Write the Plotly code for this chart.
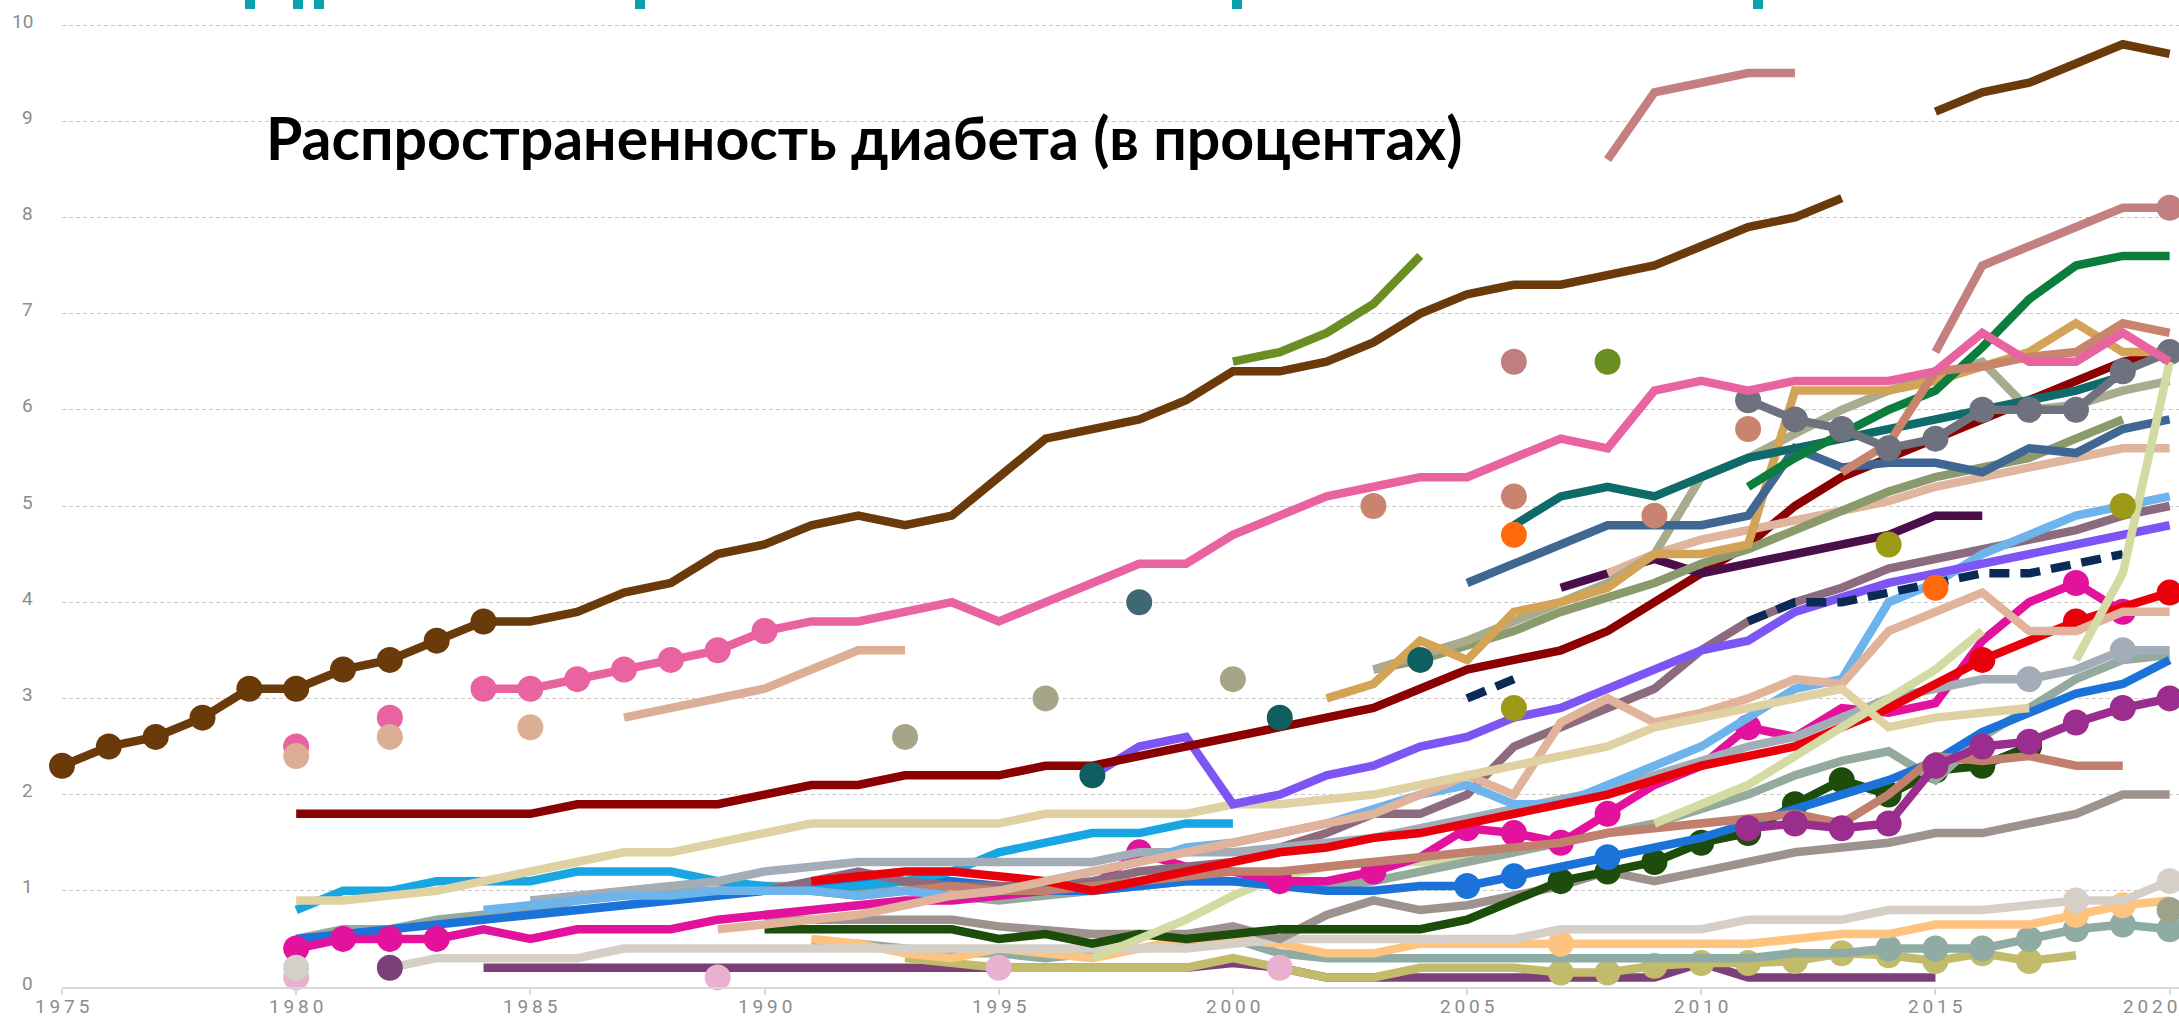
import plotly.graph_objects as go

# ---------------- categories ----------------
YEARS = [1975, 1976, 1977, 1978, 1979, 1980, 1981, 1982, 1983, 1984,
         1985, 1986, 1987, 1988, 1989, 1990, 1991, 1992, 1993, 1994,
         1995, 1996, 1997, 1998, 1999, 2000, 2001, 2002, 2003, 2004,
         2005, 2006, 2007, 2008, 2009, 2010, 2011, 2012, 2013, 2014,
         2015, 2016, 2017, 2018, 2019, 2020]
X_TICKS = [1975, 1980, 1985, 1990, 1995, 2000, 2005, 2010, 2015, 2020]
Y_TICKS = [0, 1, 2, 3, 4, 5, 6, 7, 8, 9, 10]
TITLE = "Распространенность диабета (в процентах)"

# ---------------- series values (start year given separately) ----------------
brown_a = [2.3, 2.5, 2.6, 2.8, 3.1, 3.1, 3.3, 3.4, 3.6, 3.8,
           3.8, 3.9, 4.1, 4.2, 4.5, 4.6, 4.8, 4.9, 4.8, 4.9,
           5.3, 5.7, 5.8, 5.9, 6.1, 6.4, 6.4, 6.5, 6.7, 7.0,
           7.2, 7.3, 7.3, 7.4, 7.5, 7.7, 7.9, 8.0, 8.2]            # 1975-
brown_b = [9.1, 9.3, 9.4, 9.6, 9.8, 9.7]                              # 2015-
hotpink = [3.1, 3.1, 3.2, 3.3, 3.4, 3.5, 3.7,
           3.8, 3.8, 3.9, 4.0, 3.8, 4.0, 4.2, 4.4, 4.4,
           4.7, 4.9, 5.1, 5.2, 5.3, 5.3, 5.5, 5.7, 5.6, 6.2,
           6.3, 6.2, 6.3, 6.3, 6.3, 6.4, 6.8, 6.5, 6.5, 6.8, 6.5]   # 1984-
peach_hi = [2.8, 2.9, 3.0, 3.1, 3.3, 3.5, 3.5]                       # 1987-
darkred = [1.8, 1.8, 1.8, 1.8, 1.8, 1.8, 1.9, 1.9, 1.9, 1.9,
           2.0, 2.1, 2.1, 2.2, 2.2, 2.2, 2.3, 2.3, 2.4, 2.5,
           2.6, 2.7, 2.8, 2.9, 3.1, 3.3, 3.4, 3.5, 3.7, 4.0,
           4.3, 4.6, 5.0, 5.3, 5.5, 5.7, 5.9, 6.1, 6.3, 6.5, 6.6]    # 1980-
olivegreen = [6.5, 6.6, 6.8, 7.1, 7.6]                               # 2000-
rosy_a = [8.6, 9.3, 9.4, 9.5, 9.5]                                   # 2008-
rosy_b = [6.6, 7.5, 7.7, 7.9, 8.1, 8.1]                              # 2015-
green = [5.2, 5.5, 5.75, 6.0, 6.2, 6.65, 7.15, 7.5, 7.6, 7.6]        # 2011-
graymark = [6.1, 5.9, 5.8, 5.6, 5.7, 6.0, 6.0, 6.0, 6.4, 6.6]        # 2011-
darkteal = [4.8, 5.1, 5.2, 5.1, 5.3, 5.5, 5.6, 5.7, 5.8, 5.9,
            6.0, 6.1, 6.2, 6.35]                                     # 2006-
steelblue = [4.2, 4.4, 4.6, 4.8, 4.8, 4.8, 4.9, 5.6, 5.4, 5.45,
             5.45, 5.35, 5.6, 5.55, 5.8, 5.9]                        # 2005-
gold = [3.0, 3.15, 3.6, 3.4, 3.9, 4.0, 4.15, 4.5, 4.5, 4.6,
        6.2, 6.2, 6.2, 6.3, 6.45, 6.6, 6.9, 6.6, 6.6]                # 2002-
salmon = [5.35, 5.65, 6.4, 6.45, 6.55, 6.6, 6.9, 6.8]                # 2013-
darkpurple = [4.15, 4.3, 4.45, 4.3, 4.4, 4.5, 4.6, 4.7, 4.9, 4.9]    # 2007-
sageolive = [3.3, 3.4, 3.55, 3.7, 3.9, 4.05, 4.2, 4.4, 4.55, 4.75,
             4.95, 5.15, 5.3, 5.4, 5.5, 5.7, 5.9]                    # 2003-
khakigray = [3.3, 3.45, 3.6, 3.8, 4.0, 4.2, 4.5, 5.3, 5.5, 5.75,
             6.0, 6.2, 6.35, 6.5, 6.0, 6.05, 6.2, 6.3]               # 2003-
lighttan = [4.3, 4.5, 4.65, 4.75, 4.85, 4.95, 5.05, 5.2, 5.3, 5.4,
            5.5, 5.6, 5.6]                                           # 2008-
palelime_a = [0.3, 0.5, 0.7, 0.95, 1.15, 1.25, 1.3, 1.3, 1.35, 1.4]  # 1997-
palelime_b = [1.7, 1.9, 2.1, 2.4, 2.7, 3.0, 3.3, 3.7]                # 2009-
palelime_c = [3.4, 4.3, 6.5]                                         # 2018-
lightblue = [0.8, 0.85, 0.9, 0.95, 0.95, 1.0, 1.0, 1.0, 0.95, 1.0,
             0.95, 1.0, 1.1, 1.2, 1.3, 1.45, 1.5, 1.6, 1.7, 1.85,
             2.0, 2.1, 1.9, 1.9, 2.1, 2.3, 2.5, 2.8, 3.1, 3.2,
             4.0, 4.2, 4.5, 4.7, 4.9, 5.0, 5.1]                      # 1984-
mauve = [1.0, 1.1, 1.2, 1.1, 1.05, 1.05, 1.05, 1.1, 1.2, 1.25,
         1.3, 1.45, 1.6, 1.8, 1.8, 2.0, 2.5, 2.7, 2.9, 3.1,
         3.5, 3.8, 4.0, 4.15, 4.35, 4.45, 4.55, 4.65, 4.75, 4.9, 5.0]  # 1990-
violet = [2.2, 2.5, 2.6, 1.9, 2.0, 2.2, 2.3, 2.5, 2.6, 2.8,
          2.9, 3.1, 3.3, 3.5, 3.6, 3.9, 4.05, 4.2, 4.3, 4.4,
          4.5, 4.6, 4.7, 4.8]                                        # 1997-
navy_a = [3.0, 3.2]                                                  # 2005-
navy_b = [3.8, 4.0, 4.0, 4.1, 4.2, 4.3, 4.3, 4.4, 4.5]               # 2011-
red = [1.1, 1.15, 1.2, 1.2, 1.15, 1.1, 1.0, 1.1, 1.2,
       1.3, 1.4, 1.45, 1.55, 1.6, 1.7, 1.8, 1.9, 2.0, 2.15,
       2.3, 2.4, 2.5, 2.7, 2.9, 3.15, 3.4, 3.6, 3.8, 3.95, 4.1]      # 1991-
magenta = [0.4, 0.5, 0.5, 0.5, 0.6, 0.5, 0.6, 0.6, 0.6, 0.7,
           0.75, 0.8, 0.85, 0.9, 0.9, 0.95, 1.0, 1.05, 1.4, 1.25,
           1.2, 1.1, 1.1, 1.2, 1.35, 1.65, 1.6, 1.5, 1.8, 2.1,
           2.3, 2.7, 2.6, 2.9, 2.85, 2.95, 3.6, 4.0, 4.2, 3.9]       # 1980-
wheat = [0.9, 0.9, 0.95, 1.0, 1.1, 1.2, 1.3, 1.4, 1.4, 1.5,
         1.6, 1.7, 1.7, 1.7, 1.7, 1.7, 1.8, 1.8, 1.8, 1.8,
         1.9, 1.9, 1.95, 2.0, 2.1, 2.2, 2.3, 2.4, 2.5, 2.7,
         2.8, 2.9, 3.0, 3.1, 2.7, 2.8, 2.85, 2.9]                    # 1980-
skyblue = [0.8, 1.0, 1.0, 1.1, 1.1, 1.1, 1.2, 1.2, 1.2, 1.1,
           1.05, 1.0, 1.05, 1.1, 1.2, 1.4, 1.5, 1.6, 1.6, 1.7, 1.7]  # 1980-
blue = [0.5, 0.55, 0.6, 0.65, 0.7, 0.75, 0.8, 0.85, 0.9, 0.95,
        1.0, 1.05, 1.1, 1.1, 1.1, 1.05, 1.0, 1.0, 1.05, 1.1,
        1.1, 1.05, 1.0, 1.0, 1.05, 1.05, 1.15, 1.25, 1.35, 1.45,
        1.55, 1.7, 1.85, 2.0, 2.15, 2.35, 2.65, 2.85, 3.05, 3.15, 3.4]  # 1980-
grayblue = [0.9, 0.95, 1.0, 1.05, 1.1,
            1.2, 1.25, 1.3, 1.3, 1.3, 1.3, 1.3, 1.3, 1.4, 1.4,
            1.4, 1.45, 1.5, 1.55, 1.65, 1.75, 1.85, 1.95, 2.05, 2.2,
            2.35, 2.5, 2.6, 2.8, 3.0, 3.1, 3.2, 3.2, 3.3, 3.5, 3.5]  # 1985-
sage = [0.5, 0.6, 0.6, 0.7, 0.75, 0.8, 0.9, 0.95, 1.0, 1.0,
        1.05, 1.05, 1.0, 1.0, 0.95, 0.9, 0.95, 1.0, 1.05, 1.1,
        1.1, 1.05, 1.05, 1.1, 1.2, 1.3, 1.4, 1.5, 1.6, 1.7,
        1.85, 2.0, 2.2, 2.35, 2.45, 2.15, 2.6, 2.9, 3.2, 3.4, 3.45]  # 1980-
darkgreen = [0.6, 0.6, 0.6, 0.6, 0.6, 0.5, 0.55, 0.45, 0.55, 0.5,
             0.55, 0.6, 0.6, 0.6, 0.6, 0.7, 0.9, 1.1, 1.2, 1.3,
             1.5, 1.6, 1.9, 2.15, 2.0, 2.25, 2.3, 2.5]               # 1990-
warmgray = [0.7, 0.7, 0.7, 0.7, 0.7, 0.63, 0.6, 0.55, 0.55, 0.55,
            0.63, 0.5, 0.75, 0.9, 0.8, 0.85, 0.95, 1.05, 1.2, 1.1,
            1.2, 1.3, 1.4, 1.45, 1.5, 1.6, 1.6, 1.7, 1.8, 2.0, 2.0]  # 1990-
lightgray = [0.2, 0.3, 0.3, 0.3, 0.3, 0.4, 0.4, 0.4,
             0.4, 0.4, 0.4, 0.4, 0.4, 0.4, 0.4, 0.4, 0.4, 0.4,
             0.45, 0.5, 0.5, 0.5, 0.5, 0.5, 0.5, 0.6, 0.6, 0.6,
             0.6, 0.7, 0.7, 0.7, 0.8, 0.8, 0.8, 0.85, 0.9, 0.9, 1.1]  # 1982-
plum = [0.2, 0.2, 0.2, 0.2, 0.2, 0.2,
        0.2, 0.2, 0.2, 0.2, 0.2, 0.2, 0.2, 0.2, 0.2, 0.2,
        0.25, 0.2, 0.1, 0.1, 0.1, 0.1, 0.1, 0.1, 0.1, 0.1,
        0.25, 0.1, 0.1, 0.1, 0.1, 0.1]                               # 1984-
lightorange = [0.5, 0.45, 0.35, 0.3, 0.4, 0.35, 0.3, 0.4, 0.5,
               0.5, 0.45, 0.35, 0.35, 0.45, 0.45, 0.45, 0.45, 0.45, 0.45,
               0.45, 0.45, 0.5, 0.55, 0.55, 0.65, 0.65, 0.65, 0.75, 0.85, 0.9]  # 1991-
darkkhaki = [0.3, 0.25, 0.2, 0.2, 0.2, 0.2, 0.2,
             0.3, 0.2, 0.1, 0.1, 0.2, 0.2, 0.2, 0.15, 0.15, 0.22,
             0.25, 0.25, 0.27, 0.35, 0.33, 0.27, 0.35, 0.27, 0.33]   # 1993-
grayteal = [0.45, 0.45, 0.4, 0.35, 0.35, 0.3, 0.35, 0.4, 0.45,
            0.5, 0.35, 0.3, 0.3, 0.3, 0.3, 0.3, 0.3, 0.3, 0.3,
            0.3, 0.3, 0.35, 0.35, 0.4, 0.4, 0.4, 0.5, 0.6, 0.65, 0.6]  # 1991-
rosybrown = [1.0, 0.95, 1.0, 1.05, 1.0, 1.0, 1.05, 1.1, 1.15,
             1.2, 1.2, 1.25, 1.3, 1.35, 1.4, 1.45, 1.5, 1.6, 1.65,
             1.7, 1.75, 1.8, 1.7, 2.0, 2.4, 2.35, 2.4, 2.3, 2.3]     # 1991-
peach_lo = [0.6, 0.65, 0.7, 0.75, 0.85, 0.95, 1.0, 1.1, 1.2, 1.3, 1.4,
            1.5, 1.6, 1.7, 1.8, 2.0, 2.2, 2.0, 2.75, 3.0, 2.75,
            2.85, 3.0, 3.2, 3.15, 3.7, 3.9, 4.1, 3.7, 3.7, 3.9, 3.9]  # 1989-
darkmagenta = [1.65, 1.7, 1.65, 1.7, 2.3, 2.5, 2.55, 2.75, 2.9, 3.0]  # 2011-

# isolated observations
pinkdot_years, pinkdot_vals = [1980, 1982], [2.5, 2.8]
peachdot_years, peachdot_vals = [1980, 1982, 1985], [2.4, 2.6, 2.7]
khakidot_years, khakidot_vals = [1993, 1996, 2000], [2.6, 3.0, 3.2]
tealdot_years, tealdot_vals = [1997, 2001, 2004], [2.2, 2.8, 3.4]
slatedot_years, slatedot_vals = [1998], [4.0]
salmondot_years, salmondot_vals = [2003, 2006, 2009, 2011], [5.0, 5.1, 4.9, 5.8]
rosydot_years, rosydot_vals = [2006], [6.5]
olivedot_years, olivedot_vals = [2008], [6.5]
orangedot_years, orangedot_vals = [2006, 2015], [4.7, 4.15]
oliveydot_years, oliveydot_vals = [2006, 2014, 2019], [2.9, 4.6, 5.0]
lpinkdot_years, lpinkdot_vals = [1980, 1989, 1995, 2001], [0.1, 0.1, 0.2, 0.2]
lgraydot_years, lgraydot_vals = [1980], [0.2]
plumdot_years, plumdot_vals = [1982], [0.2]
edgedot_years, edgedot_vals = [2020], [0.8]

# ---------------- styles ----------------
LW = 8.5
MS = 26
# (values, start year, colour, marker years (None / 'all' / list), dash)
LINES = [
    (plum, 1984, "#7d3f78", None, None),
    (darkkhaki, 1993, "#c2bb6c", list(range(2007, 2018)), None),
    (grayteal, 1991, "#8eaba4", list(range(2014, 2021)), None),
    (lightorange, 1991, "#fec47f", [2007, 2018, 2019], None),
    (lightgray, 1982, "#d5cfc7", [2018, 2020], None),
    (warmgray, 1990, "#9e928f", None, None),
    (darkgreen, 1990, "#1d4d0a", list(range(2007, 2018)), None),
    (palelime_a, 1997, "#d3dba2", None, None),
    (sage, 1980, "#93aa9c", None, None),
    (blue, 1980, "#1b73d9", [2005, 2006, 2008], None),
    (skyblue, 1980, "#18a6e2", None, None),
    (magenta, 1980, "#e2129c", [1980, 1981, 1982, 1983, 1998, 2001, 2003, 2005,
                                2006, 2007, 2008, 2011, 2018, 2019], None),
    (mauve, 1990, "#8c6b7f", None, None),
    (grayblue, 1985, "#a3adb7", [2017, 2019], None),
    (rosybrown, 1991, "#c1806d", None, None),
    (lightblue, 1984, "#6db3ec", None, None),
    (red, 1991, "#e8000b", [2016, 2018, 2020], None),
    (peach_lo, 1989, "#e2b39b", None, None),
    (wheat, 1980, "#e0d1a2", None, None),
    (palelime_b, 2009, "#d3dba2", None, None),
    (darkmagenta, 2011, "#9a2d8e", "all", None),
    (violet, 1997, "#7d55f5", None, None),
    (navy_a, 2005, "#0c2a56", None, "20px,11px"),
    (navy_b, 2011, "#0c2a56", None, "20px,11px"),
    (darkred, 1980, "#8b0000", None, None),
    (darkpurple, 2007, "#4a0f4a", None, None),
    (lighttan, 2008, "#e0b59e", None, None),
    (sageolive, 2003, "#8b9a6c", None, None),
    (khakigray, 2003, "#a8ab8e", None, None),
    (gold, 2002, "#d3a356", None, None),
    (steelblue, 2005, "#3f6791", None, None),
    (darkteal, 2006, "#0f6a6a", None, None),
    (green, 2011, "#0b7d3c", None, None),
    (salmon, 2013, "#c8846c", None, None),
    (graymark, 2011, "#6e727e", "all", None),
    (palelime_c, 2018, "#d3dba2", None, None),
    (peach_hi, 1987, "#dcae96", None, None),
    (hotpink, 1984, "#e8639f", list(range(1984, 1991)), None),
    (olivegreen, 2000, "#6b8e23", None, None),
    (rosy_a, 2008, "#c47f80", None, None),
    (rosy_b, 2015, "#c47f80", [2020], None),
    (brown_a, 1975, "#6b3a0a", list(range(1975, 1985)), None),
    (brown_b, 2015, "#6b3a0a", None, None),
]
DOTS = [
    (pinkdot_years, pinkdot_vals, "#e8639f"),
    (peachdot_years, peachdot_vals, "#dcae96"),
    (khakidot_years, khakidot_vals, "#a6a58a"),
    (tealdot_years, tealdot_vals, "#0f5f60"),
    (slatedot_years, slatedot_vals, "#3e6872"),
    (salmondot_years, salmondot_vals, "#c9846f"),
    (rosydot_years, rosydot_vals, "#c27d80"),
    (olivedot_years, olivedot_vals, "#6b8e23"),
    (orangedot_years, orangedot_vals, "#ff6a0c"),
    (oliveydot_years, oliveydot_vals, "#9c9a17"),
    (lpinkdot_years, lpinkdot_vals, "#e9b1cf"),
    (lgraydot_years, lgraydot_vals, "#d3cfc9"),
    (plumdot_years, plumdot_vals, "#7d3f78"),
    (edgedot_years, edgedot_vals, "#9fa38a"),
]

# small remnants of a cut-off cyan heading at the very top (window px)
HEADING_BITS_X = [250, 298, 319, 640, 1237, 1758]


def years_for(start, vals):
    i = YEARS.index(start)
    return YEARS[i:i + len(vals)]


fig = go.Figure()
for vals, start, color, myears, dash in LINES:
    xs = years_for(start, vals)
    if myears is None:
        mode = "lines"
        sizes = 0
    else:
        mode = "lines+markers"
        sizes = [MS if (myears == "all" or x in myears) else 0 for x in xs]
    fig.add_trace(go.Scatter(
        x=xs, y=vals, mode=mode,
        line=dict(color=color, width=LW, dash=dash),
        marker=dict(size=sizes, color=color, opacity=1, line=dict(width=0)),
        showlegend=False, hoverinfo="skip", cliponaxis=False,
    ))

for xs, vals, color in DOTS:
    fig.add_trace(go.Scatter(
        x=xs, y=vals, mode="markers",
        marker=dict(size=MS, color=color, opacity=1, line=dict(width=0)),
        showlegend=False, hoverinfo="skip", cliponaxis=False,
    ))

fig.add_annotation(
    x=1979.31, y=8.83, xref="x", yref="y",
    text="<b>" + TITLE + "</b>", showarrow=False,
    xanchor="left", yanchor="middle",
    font=dict(family="Lato, 'Open Sans', sans-serif", size=59, color="#000000"),
)

W, H, L, B = 2179, 1019, 62, 32
for px in HEADING_BITS_X:
    fig.add_shape(
        type="rect", xref="paper", yref="paper", layer="above",
        x0=(px - 5 - L) / (W - L), x1=(px + 5 - L) / (W - L),
        y0=1 - 9 / (H - B), y1=1.0,
        fillcolor="#0aa0ad", line=dict(width=0),
    )

ytick_font = dict(family="Roboto, 'Open Sans', sans-serif", size=19, color="#8c8c8c")
# y tick labels: sit slightly above their grid lines, right edge ~27px left of the plot
for v in Y_TICKS:
    fig.add_annotation(
        x=-27 / (W - L), xref="paper", y=v, yref="y",
        text=str(v), showarrow=False, xanchor="right", yanchor="middle",
        yshift=4, font=ytick_font,
    )

xtick_font = dict(family="Roboto, 'Open Sans', sans-serif", size=19, color="#8c8c8c")
# x tick labels just under the axis line (letter-spaced with thin spaces)
for yr in X_TICKS:
    last = yr == X_TICKS[-1]
    fig.add_annotation(
        x=yr, xref="x", y=0, yref="paper",
        text="\u2009".join(str(yr)), showarrow=False,
        xanchor="right" if last else "center", yanchor="middle",
        xshift=9 if last else 0,
        yshift=-19, font=xtick_font,
    )

fig.update_layout(
    width=W, height=H, autosize=False,
    margin=dict(l=L, r=0, t=0, b=B, autoexpand=False),
    paper_bgcolor="white", plot_bgcolor="white",
    xaxis=dict(
        range=[1975, 2020.2], tickvals=X_TICKS, showgrid=False, zeroline=False,
        showline=True, linecolor="#d9d9d9", linewidth=2,
        ticks="outside", ticklen=6, tickcolor="#d9d9d9", tickwidth=2,
        showticklabels=False, automargin=False,
    ),
    yaxis=dict(
        range=[0, 10.26], tickvals=Y_TICKS, showgrid=True,
        gridcolor="#c8c8c8", gridwidth=1, griddash="4px,3px",
        zeroline=False, showline=False, ticks="", showticklabels=False,
        automargin=False,
    ),
)

fig.write_html("out.html", config={"displayModeBar": False, "responsive": False},
               post_script="document.body.style.margin='0';document.body.style.overflow='hidden';")
